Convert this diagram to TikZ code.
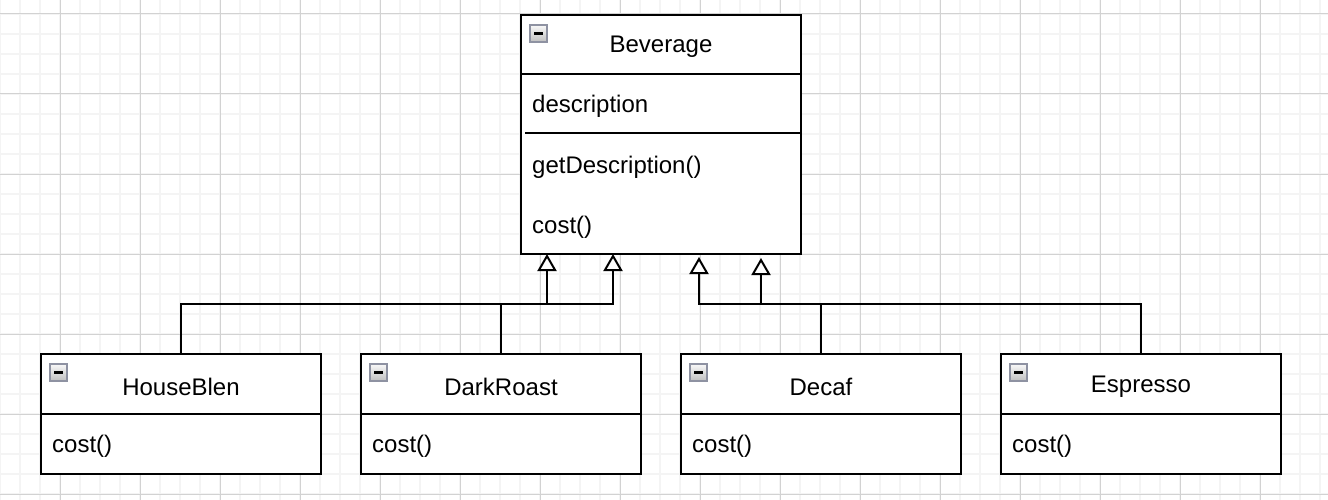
\documentclass[tikz,border=0pt]{standalone}
\usepackage{fontspec}
\setmainfont{Liberation Sans}
\usetikzlibrary{arrows.meta,calc}
\definecolor{gridminor}{HTML}{F4F4F4}
\definecolor{gridmajor}{HTML}{D2D2D2}
\definecolor{iconedge}{HTML}{8E92A2}
\begin{document}
\begin{tikzpicture}[x=1pt,y=-1pt,
  every node/.style={font=\fontsize{24}{28}\selectfont},
  classbox/.style={draw=black,line width=2pt,fill=white,inner sep=0pt,outer sep=0pt,anchor=north west,minimum width=280pt},
  sep/.style={draw=black,line width=2pt},
  member/.style={anchor=west,inner sep=0pt},
  title/.style={inner sep=0pt},
  tog/.style={draw=iconedge,line width=1.5pt,minimum size=17pt,inner sep=0pt,outer sep=0pt,anchor=north west,
     top color=gray!5,bottom color=gray!50,
     path picture={\draw[black,line width=2.5pt] ($(path picture bounding box.west)+(4pt,0)$) -- ($(path picture bounding box.east)+(-4pt,0)$);}},
  inh/.style={draw=black,line width=2pt,-{Triangle[open,length=17pt,width=19pt,fill=white]}}
]
\useasboundingbox (0,0) rectangle (1328,500);
% grid
\foreach \x in {0,20,...,1320} \draw[gridminor,line width=1.5pt] (\x,0) -- (\x,500);
\foreach \y in {14,34,...,494} \draw[gridminor,line width=1.5pt] (0,\y) -- (1328,\y);
\foreach \x in {60,140,...,1320} \draw[gridmajor,line width=1pt] (\x,0) -- (\x,500);
\foreach \y in {14,94,...,494} \draw[gridmajor,line width=1pt] (0,\y) -- (1328,\y);

% Beverage
\node[classbox,minimum height=239pt] (bev) at (521,15) {};
\draw[sep] (521,74) -- (801,74);
\draw[sep] (525,133) -- (801,133);
\node[tog] (bevicon) at (530,25) {};
\node[title] (bevtitle) at (661,47) {Beverage};
\node[member] (bevdesc) at (532,106) {description};
\node[member] (bevget) at (532,167) {getDescription()};
\node[member] (bevcost) at (532,227) {cost()};

% subclasses
\node[classbox,minimum height=120pt] (hb) at (41,354) {};
\draw[sep] (41,414) -- (321,414);
\node[tog] (hbicon) at (50,364) {};
\node[title] (hbtitle) at (181,387) {HouseBlen};
\node[member] (hbcost) at (52,446) {cost()};

\node[classbox,minimum height=120pt] (dr) at (361,354) {};
\draw[sep] (361,414) -- (641,414);
\node[tog] (dricon) at (370,364) {};
\node[title] (drtitle) at (501,387) {DarkRoast};
\node[member] (drcost) at (372,446) {cost()};

\node[classbox,minimum height=120pt] (dc) at (681,354) {};
\draw[sep] (681,414) -- (961,414);
\node[tog] (dcicon) at (690,364) {};
\node[title] (dctitle) at (821,387) {Decaf};
\node[member] (dccost) at (692,446) {cost()};

\node[classbox,minimum height=120pt] (es) at (1001,354) {};
\draw[sep] (1001,414) -- (1281,414);
\node[tog] (esicon) at (1010,364) {};
\node[title] (estitle) at (1141,387) {Espresso};
\node[member] (escost) at (1012,446) {cost()};

% connectors
\coordinate (j1) at (547,304); \coordinate (p1) at (547,254);
\coordinate (j2) at (613,304); \coordinate (p2) at (613,254);
\coordinate (j3) at (699,304); \coordinate (p3) at (699,257);
\coordinate (j4) at (761,304); \coordinate (p4) at (761,258);
\draw[inh] (hb.north) |- (j1) -- (p1);
\draw[inh] (dr.north) |- (j2) -- (p2);
\draw[inh] (dc.north) |- (j3) -- (p3);
\draw[inh] (es.north) |- (j4) -- (p4);
\end{tikzpicture}
\end{document}
